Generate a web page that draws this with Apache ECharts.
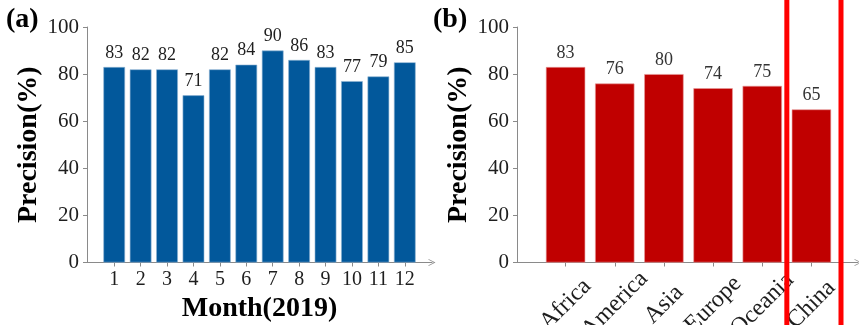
<!DOCTYPE html>
<html>
<head>
<meta charset="utf-8">
<title>Precision by month and region</title>
<script src="https://cdn.jsdelivr.net/npm/echarts@6/dist/echarts.min.js"></script>
<style>
  html, body { margin: 0; padding: 0; background: #fff; }
  #chart { width: 859px; height: 325px; }
</style>
</head>
<body>
<div id="chart"></div>
<script>
// Panel (a): precision per month of 2019
const months = ['1', '2', '3', '4', '5', '6', '7', '8', '9', '10', '11', '12'];
const monthPrecision = [83, 82, 82, 71, 82, 84, 90, 86, 83, 77, 79, 85];

// Panel (b): precision per region
const regions = ['Africa', 'America', 'Asia', 'Europe', 'Oceania', 'China'];
const regionPrecision = [83, 76, 80, 74, 75, 65];

// Shared value scale
const yMin = 0, yMax = 100, yStep = 20;

const SERIF = '"Liberation Serif", "Times New Roman", serif';
const AXIS_GREY = '#8a8a8a';
const TEXT = '#1e1e1e';
// thin open chevron used as the x-axis arrow head (points up, rotated by the axis)
const CHEVRON = 'path://M5,0 L10,10 L8.8,10 L5,2.4 L1.2,10 L0,10 Z';

function valueAxis(gridIndex, offset) {
  return {
    type: 'value', gridIndex, min: yMin, max: yMax, interval: yStep, offset,
    name: 'Precision(%)', nameLocation: 'middle', nameGap: 44,
    nameTextStyle: { fontFamily: SERIF, fontWeight: 'bold', fontSize: 28, color: '#000' },
    axisLine: { show: true, lineStyle: { color: AXIS_GREY, width: 1 } },
    axisTick: { show: true, length: 4, lineStyle: { color: AXIS_GREY } },
    axisLabel: { fontFamily: SERIF, fontSize: 21, color: TEXT, margin: 8 },
    splitLine: { show: false }
  };
}

function arrowAxis(gridIndex) {
  return {
    type: 'value', gridIndex, min: 0, max: 1,
    axisLine: { show: true, symbol: ['none', CHEVRON], symbolSize: [9, 7],
                lineStyle: { color: AXIS_GREY, width: 1 } },
    axisTick: { show: false }, axisLabel: { show: false }, splitLine: { show: false }
  };
}

function hiddenY(gridIndex) {
  return { type: 'value', gridIndex, show: false, min: 0, max: 1 };
}

function plotGrid(left, width) {
  return { left, width, top: 27, bottom: 62.5, containLabel: false, outerBoundsMode: 'none' };
}

const option = {
  animation: false,
  backgroundColor: '#fff',
  title: [
    { text: '(a)', left: 6, top: 6, padding: 0,
      textStyle: { fontFamily: SERIF, fontWeight: 'bold', fontSize: 28, color: '#000' } },
    { text: '(b)', left: 433, top: 6, padding: 0,
      textStyle: { fontFamily: SERIF, fontWeight: 'bold', fontSize: 28, color: '#000' } }
  ],
  grid: [plotGrid(101, 317), plotGrid(541, 295), plotGrid(84, 348), plotGrid(514, 344)],
  xAxis: [
    {
      type: 'category', gridIndex: 0, data: months,
      name: 'Month(2019)', nameLocation: 'middle', nameGap: 30,
      nameTextStyle: { fontFamily: SERIF, fontWeight: 'bold', fontSize: 28, color: '#000',
                       verticalAlign: 'top' },
      axisLine: { show: false },
      axisTick: { show: true, alignWithLabel: true, length: 4, lineStyle: { color: AXIS_GREY } },
      axisLabel: { fontFamily: SERIF, fontSize: 20, color: TEXT, margin: 7, interval: 0 }
    },
    {
      type: 'category', gridIndex: 1, data: regions,
      axisLine: { show: false },
      axisTick: { show: true, alignWithLabel: true, length: 4, lineStyle: { color: AXIS_GREY } },
      axisLabel: { fontFamily: SERIF, fontSize: 24, color: TEXT, interval: 0,
                   rotate: 45, align: 'center', verticalAlign: 'middle', margin: 42 }
    },
    arrowAxis(2),
    arrowAxis(3)
  ],
  yAxis: [valueAxis(0, 14), valueAxis(1, 24), hiddenY(2), hiddenY(3)],
  series: [
    {
      type: 'bar', xAxisIndex: 0, yAxisIndex: 0, data: monthPrecision,
      barCategoryGap: '18%',
      itemStyle: { color: '#02589b', borderColor: '#8fb3d4', borderWidth: 0.6 },
      label: { show: true, position: 'top', distance: 5,
               fontFamily: SERIF, fontSize: 18, color: TEXT }
    },
    {
      type: 'bar', xAxisIndex: 1, yAxisIndex: 1, data: regionPrecision,
      barCategoryGap: '20%',
      itemStyle: { color: '#c00000', borderColor: '#e89a9a', borderWidth: 0.6 },
      label: { show: true, position: 'top', distance: 5,
               fontFamily: SERIF, fontSize: 18, color: '#333' }
    }
  ]
};

const chart = echarts.init(document.getElementById('chart'), null, { renderer: 'canvas' });
chart.setOption(option);

// Highlight frame around the China column: two red bars spanning the full height,
// placed from the category band of the last region.
const lastIdx = regions.length - 1;
const cx = chart.convertToPixel({ xAxisIndex: 1 }, regions[lastIdx]);
const prevX = chart.convertToPixel({ xAxisIndex: 1 }, regions[lastIdx - 1]);
const band = cx - prevX;
const leftX = cx - band / 2;
const rightX = cx + band / 2 + 5;
chart.setOption({
  graphic: [
    { type: 'rect', z: 100, shape: { x: leftX - 2.5, y: 0, width: 5, height: 325 },
      style: { fill: '#ff0000' } },
    { type: 'rect', z: 100, shape: { x: rightX - 2.5, y: 0, width: 5, height: 325 },
      style: { fill: '#ff0000' } }
  ]
});
</script>
</body>
</html>
